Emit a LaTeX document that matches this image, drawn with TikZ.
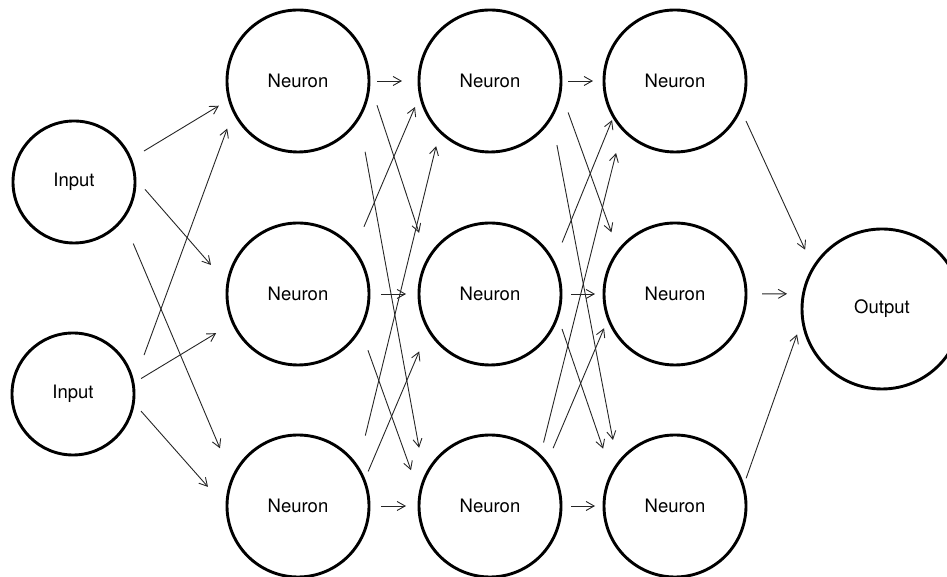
\documentclass[tikz,border=0pt]{standalone}
\usepackage{fontspec}
\setmainfont{TeX Gyre Heros}
\usetikzlibrary{arrows.meta}

\begin{document}
\begin{tikzpicture}[x=1pt,y=1pt,font=\fontsize{18.5}{22}\selectfont,
    neuronio/.style={circle,draw,line width=2.9pt,minimum size=142pt,inner sep=0pt,outer sep=0pt},
    seta/.style={-{Straight Barb[length=8pt,width=9pt]},line width=0.9pt,black!85}]
  \useasboundingbox (0,0) rectangle (947,577);
  % entradas
  \node[neuronio,minimum size=122pt] (in1) at (74,395) {Input};
  \node[neuronio,minimum size=122pt] (in2) at (73,183) {Input};
  % tres camadas ocultas (coluna \c, linha \l)
  \foreach \c/\x in {1/298, 2/490, 3/675}
    \foreach \l/\y in {1/496, 2/283, 3/71}
      \node[neuronio] (n\c\l) at (\x,\y) {Neuron};
  % saida
  \node[neuronio,minimum size=160pt] (out) at (882,268) {Output};
  % ligacoes: origem / destino / recuo no inicio / recuo no fim
  \foreach \a/\b/\s/\t in {
      in1.22/n11.-165/15.7/12.3, in1.4/n12.172/15.5/25.4, in1.-37.5/n13.157/27/32.5,
      in2.9/n11.-155.5/31.3/18.7, in2.10.6/n12.-156/9.4/19.9, in2.-8/n13.-178/11.5/28.8,
      n11.east/n21.west/8/17, n11.-0.6/n22.151/25.5/28.1, n11.-31/n23.157/34.8/31,
      n12.38/n21.-169/25.5/13.6, n12.east/n22.west/12/13, n12.-29/n23.171.6/23.2/26.2,
      n13.33.5/n21.-135/32.7/15.4, n13.21.4/n22.-150.4/9.9/23.8, n13.east/n23.west/12/13,
      n21.east/n31.west/7/11, n21.-8.4/n32.143.7/23/20.1, n21.-30/n33.144/29.1/24.7,
      n22.26.4/n31.-150/22.1/3.9, n22.east/n32.west/10/9, n22.-18/n33.153.3/13.8/26.5,
      n23.45.6/n31.-138/13.7/25.3, n23.37.2/n32.-160/16.4/10.8, n23.east/n33.west/10/9,
      n31.-23/out.149.2/13.5/19.9, n32.east/out.169.2/16/16.4, n33.16.3/out.-173.3/8.6/16.6}
    \draw[seta,shorten <=\s,shorten >=\t] (\a) -- (\b);
\end{tikzpicture}
\end{document}
